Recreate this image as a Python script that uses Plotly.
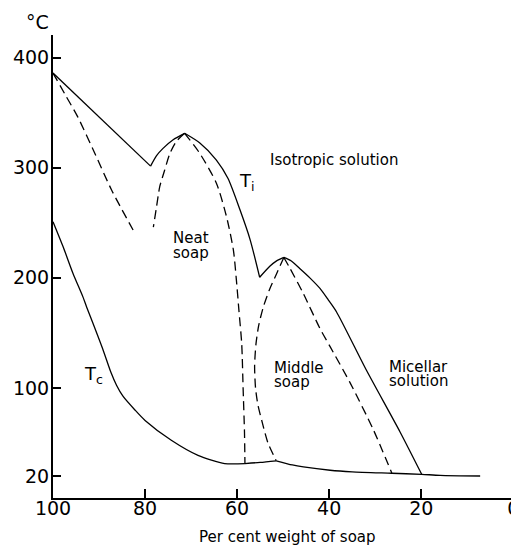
import plotly.graph_objects as go

# ---- data (per cent weight of soap, temperature °C) ----
ti1_x = [100, 78.8]
ti1_y = [386, 301.5]
ti2_x = [78.8, 77.5, 76.1, 73.9, 71.4]
ti2_y = [301.5, 311, 317.6, 325.5, 331.3]
ti3_x = [71.4, 68.1, 64.5, 62.0, 59.4, 57.2, 55.1]
ti3_y = [331.3, 322.5, 307, 290.4, 262, 235, 200.5]
ti4_x = [55.1, 52.9, 51.5, 49.85]
ti4_y = [200.5, 210.5, 215.2, 218.5]
ti5_x = [49.85, 48.3, 46.4, 44.2, 42, 40.2, 38.4, 31.9, 24.6, 19.9]
ti5_y = [218.5, 215.5, 208.5, 200, 190.4, 180, 169, 116, 60, 21.5]

tc1_x = [100, 97.8, 95.65, 93.5, 92.7, 91.3, 89.1, 87.4, 86.2, 84.8, 82.2, 80, 74.3, 68.5, 62.7, 58.3]
tc1_y = [251, 228.2, 204, 182.7, 173.6, 158.5, 134.3, 114, 102.5, 92.5, 80, 70.5, 52.5, 38.8, 31.3, 31.3]
tc2_x = [58.3, 55, 51.5]
tc2_y = [31.3, 32.3, 33.8]
tc3_x = [51.5, 48, 45.6, 39.8, 35, 26.4, 19.9, 15.9, 7.2]
tc3_y = [33.8, 30, 28.2, 25.2, 23.8, 22.5, 21.5, 20.6, 20]

d1_x = [100, 97.3, 94.6, 90.9, 87.3, 82.6]
d1_y = [386, 366, 346, 313, 280, 243.4]
d2_x = [71.4, 73.2, 74.6, 75.8, 76.8, 77.6, 78.2]
d2_y = [331.3, 324, 313, 297, 283, 262, 246]
d3_x = [71.4, 68.1, 64.5, 62.3, 60.8, 60.2, 59.6, 59, 58.7, 58.4, 58.3]
d3_y = [331.3, 313, 286, 255.5, 225, 200, 170, 140, 100, 60, 31.3]
d4_x = [49.85, 51.4, 53, 54.3, 55.3, 55.9, 56.2, 56, 55.5, 54.5, 53.3, 51.5]
d4_y = [218.5, 204, 189, 173.6, 157, 140, 120, 100, 85, 68, 50, 33.8]
d5_x = [49.85, 48.5, 45.65, 42, 39.8, 35.5, 30.4, 26.4]
d5_y = [218.5, 208.5, 186, 154, 137.5, 105, 62, 22.7]

x_ticks = [100, 80, 60, 40, 20, 0]
y_ticks = [20, 100, 200, 300, 400]

FONT = "DejaVu Sans"

fig = go.Figure()

solid = [(ti1_x, ti1_y), (ti2_x, ti2_y), (ti3_x, ti3_y), (ti4_x, ti4_y), (ti5_x, ti5_y),
         (tc1_x, tc1_y), (tc2_x, tc2_y), (tc3_x, tc3_y)]
for xs, ys in solid:
    fig.add_trace(go.Scatter(x=xs, y=ys, mode="lines",
                             line=dict(color="black", width=1.3, shape="spline", smoothing=0.7),
                             showlegend=False, hoverinfo="skip"))

dashed = [(d1_x, d1_y), (d2_x, d2_y), (d3_x, d3_y), (d4_x, d4_y), (d5_x, d5_y)]
for xs, ys in dashed:
    fig.add_trace(go.Scatter(x=xs, y=ys, mode="lines",
                             line=dict(color="black", width=1.3, dash="9px,5px",
                                       shape="spline", smoothing=0.7),
                             showlegend=False, hoverinfo="skip"))

labels = [
    ("Isotropic solution", 53.3, 307.5, "left", 15),
    ("Neat", 69.95, 236.1, "center", 15),
    ("soap", 69.95, 222.5, "center", 15),
    ("Middle", 52.5, 117.9, "left", 15),
    ("soap", 52.5, 105.2, "left", 15),
    ("Micellar", 27.5, 118.8, "left", 15),
    ("solution", 27.5, 106.1, "left", 15),
    ("T<sub>i</sub>", 60.1, 287, "left", 18),
    ("T<sub>c</sub>", 93.8, 112, "left", 18),
]
for txt, x, y, anc, sz in labels:
    fig.add_annotation(x=x, y=y, text=txt, showarrow=False, xanchor=anc, yanchor="middle",
                       font=dict(family=FONT, size=sz, color="black"))

fig.add_annotation(xref="paper", yref="paper", x=-0.033, y=1.029, text="°C", showarrow=False,
                   xanchor="center", yanchor="middle", font=dict(family=FONT, size=19, color="black"))
fig.add_annotation(xref="paper", yref="paper", x=0.504, y=0, yshift=-39, text="Per cent weight of soap",
                   showarrow=False, xanchor="center", yanchor="middle",
                   font=dict(family=FONT, size=15, color="black"))

# page body has an 8px default margin, so the plot area is placed 8px up/left
fig.update_layout(
    width=519, height=546,
    margin=dict(l=45.3, r=8, t=27, b=56.3, autoexpand=False),
    plot_bgcolor="white", paper_bgcolor="white",
    font=dict(family=FONT, color="black"),
)
fig.update_xaxes(range=[100, -1.24], tickvals=x_ticks, ticktext=[str(v) for v in x_ticks],
                 ticks="inside", ticklen=9, tickwidth=1.5, tickcolor="black",
                 showline=True, linecolor="black", linewidth=2, showgrid=False, zeroline=False,
                 ticklabelstandoff=-8,
                 tickfont=dict(family=FONT, size=19, color="black"))
fig.update_yaxes(range=[0, 420.6], tickvals=y_ticks, ticktext=[str(v) for v in y_ticks],
                 ticks="inside", ticklen=8, tickwidth=1.5, tickcolor="black",
                 showline=True, linecolor="black", linewidth=2, showgrid=False, zeroline=False,
                 ticklabelstandoff=-2,
                 tickfont=dict(family=FONT, size=19, color="black"))

fig.write_html("out.html")
